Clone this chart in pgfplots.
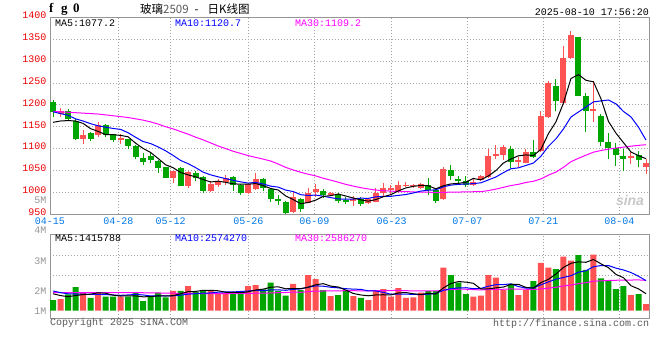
\documentclass[border=0pt]{standalone}
\usepackage{pgfplots}
\usepackage{pgfplotstable}
\pgfplotsset{compat=1.18}
\usepackage{fontspec}
\setmainfont{Liberation Mono}
\newfontfamily\cjk{Noto Sans CJK SC}
\newfontfamily\sansb{Liberation Sans}
\newfontfamily\serifb{Liberation Serif}
\definecolor{cred}{RGB}{255,82,82}
\definecolor{cgreen}{RGB}{0,166,0}
\definecolor{cdate}{RGB}{0,120,230}
\definecolor{ctick}{RGB}{235,0,0}
\definecolor{cgrid}{RGB}{165,165,165}
\definecolor{cframe}{RGB}{150,150,150}
\definecolor{clabel}{RGB}{150,150,150}
\definecolor{ctext}{RGB}{90,90,90}
\definecolor{cmag}{RGB}{255,0,255}
\definecolor{cblue}{RGB}{0,0,255}

\pgfplotstableread{
x o h l c v
1 1180 1192 1173 1185 1.00
4 1122 1142 1111 1132 1.57
6 1131 1161 1127 1154 1.57
9 1119 1134 1111 1124 1.20
16 1033 1050 1022 1048 1.69
18 1015 1050 1011 1047 2.11
21 1003 1025 1001 1020 1.69
22 1016 1030 1012 1024 1.49
23 1024 1039 1017 1034 1.43
26 999 1022 997 1020 2.11
27 1008 1044 1006 1031 2.20
32 955 1000 952 990 2.29
34 976 1009 975 999 3.06
35 1000 1020 990 1008 2.71
37 995 1001 993 999 1.26
40 981 992 969 985 1.26
42 975 987 973 984 0.91
43 979 1011 977 999 1.69
44 999 1022 992 1009 1.86
45 1006 1018 993 1009 1.20
46 1001 1026 998 1016 1.94
47 1015 1023 1012 1018 1.11
48 1014 1020 1010 1017 1.14
49 1009 1022 1008 1020 1.54
52 984 1059 982 1053 3.69
56 1018 1033 1015 1024 1.20
57 1028 1039 1027 1037 1.29
58 1035 1100 1034 1083 3.06
59 1083 1108 1077 1087 2.83
60 1085 1108 1075 1104 1.77
62 1070 1081 1058 1074 1.34
63 1068 1100 1066 1093 1.77
65 1095 1186 1093 1174 4.11
66 1173 1255 1170 1250 3.69
68 1205 1334 1200 1308 4.63
69 1308 1368 1305 1360 4.29
72 1186 1254 1161 1190 4.80
77 1078 1093 1065 1083 1.34
79 1057 1076 1042 1066 0.57
}\upTable

\pgfplotstableread{
x o h l c v
0 1207 1212 1172 1183 0.91
2 1186 1190 1162 1167 1.40
3 1164 1168 1120 1121 2.03
5 1135 1137 1117 1123 1.11
7 1155 1156 1126 1130 1.20
8 1133 1134 1116 1120 1.20
10 1121 1123 1100 1107 1.20
11 1107 1108 1077 1081 1.54
12 1078 1089 1063 1070 0.83
13 1084 1092 1066 1074 1.26
14 1072 1075 1045 1056 1.54
15 1057 1058 1033 1034 1.14
17 1055 1057 1014 1015 1.69
19 1045 1050 1027 1034 1.60
20 1036 1038 999 1003 1.69
24 1036 1037 1003 1017 1.60
25 1018 1020 995 999 1.49
28 1030 1034 1004 1010 1.83
29 1008 1010 978 985 2.40
30 984 994 971 981 1.69
31 978 980 951 952 1.29
33 984 987 956 963 1.77
36 1004 1008 987 994 1.77
38 997 999 976 981 1.34
39 983 989 974 977 1.77
41 985 990 969 973 1.11
50 1017 1032 994 1005 1.69
51 1005 1009 976 981 1.69
53 1051 1062 1028 1038 3.06
54 1030 1037 1018 1026 2.40
55 1026 1037 1012 1018 1.43
61 1100 1106 1056 1070 2.29
64 1093 1119 1078 1080 2.54
67 1242 1259 1185 1208 3.57
70 1355 1355 1219 1219 4.77
71 1219 1226 1138 1185 3.49
73 1174 1180 1105 1115 2.77
74 1116 1136 1076 1101 2.63
75 1102 1113 1061 1085 1.86
76 1082 1098 1049 1077 2.11
78 1085 1095 1059 1074 1.43
}\downTable

\pgfplotstableread{
x ma5 ma10 ma30 vma5 vma10 vma30
0 1160 1184 1185 1.45 1.69 1.55
1 1163 1180 1184 1.30 1.55 1.55
2 1164 1176 1183 1.20 1.45 1.55
3 1163 1168 1182 1.30 1.43 1.55
4 1157.6 1163 1181 1.38 1.42 1.55
5 1145.6 1157 1180 1.42 1.40 1.55
6 1139.4 1152 1179 1.54 1.40 1.55
7 1132.0 1149 1177 1.50 1.38 1.55
8 1131.8 1146 1175 1.33 1.35 1.55
9 1130.2 1143.9 1173 1.26 1.32 1.54
10 1127.0 1136.3 1171 1.27 1.35 1.54
11 1112.4 1125.9 1168 1.27 1.40 1.54
12 1100.4 1116.2 1165 1.19 1.35 1.54
13 1091.2 1111.5 1161 1.21 1.27 1.53
14 1077.6 1103.9 1156 1.27 1.27 1.52
15 1063.0 1095.0 1150 1.26 1.27 1.51
16 1056.4 1084.4 1145 1.29 1.28 1.50
17 1045.4 1072.9 1139 1.46 1.33 1.49
18 1040.0 1065.6 1133 1.63 1.42 1.48
19 1035.6 1056.6 1126 1.65 1.46 1.48
20 1029.4 1046.2 1120 1.75 1.51 1.47
21 1023.8 1040.1 1113 1.75 1.52 1.47
22 1025.6 1035.5 1106 1.71 1.59 1.47
23 1023.0 1031.5 1100 1.58 1.61 1.47
24 1019.6 1027.6 1094 1.58 1.61 1.48
25 1018.8 1024.1 1089 1.54 1.65 1.48
26 1018.8 1021.3 1084 1.62 1.69 1.49
27 1020.2 1022.9 1080 1.77 1.74 1.50
28 1015.4 1019.2 1076 1.85 1.71 1.51
29 1009.0 1014.3 1071.6 2.01 1.79 1.52
30 1005.4 1012.1 1064.9 2.05 1.79 1.55
31 991.8 1005.3 1057.1 1.88 1.75 1.56
32 983.6 1001.9 1051.2 1.90 1.83 1.59
33 974.2 994.8 1045.9 1.89 1.87 1.58
34 977.0 993.0 1041.5 2.02 2.01 1.63
35 982.4 993.9 1037.7 2.22 2.13 1.68
36 990.8 991.3 1032.3 2.32 2.10 1.69
37 992.6 988.1 1028.0 2.11 2.01 1.69
38 996.2 985.2 1023.3 2.03 1.96 1.70
39 991.8 984.4 1018.4 1.77 1.89 1.72
40 987.2 984.8 1014.4 1.48 1.85 1.72
41 983.0 986.9 1010.8 1.35 1.83 1.70
42 980.0 986.3 1007.9 1.28 1.70 1.71
43 983.6 989.9 1005.4 1.35 1.69 1.72
44 990.0 990.9 1003.8 1.37 1.57 1.73
45 994.8 991.0 1003.0 1.35 1.42 1.73
46 1003.4 993.2 1001.9 1.52 1.43 1.74
47 1010.2 995.1 1002.0 1.56 1.42 1.72
48 1013.8 998.7 1001.0 1.45 1.40 1.69
49 1016.0 1003.0 1000.6 1.39 1.38 1.69
50 1015.2 1005.0 1000.6 1.49 1.42 1.69
51 1008.2 1005.8 999.3 1.43 1.48 1.69
52 1015.2 1012.7 1000.3 1.95 1.75 1.76
53 1019.4 1016.6 1000.4 2.33 1.89 1.82
54 1020.6 1018.3 1000.7 2.50 1.95 1.84
55 1023.2 1019.2 1001.4 2.45 1.97 1.84
56 1031.8 1020.0 1001.5 2.35 1.89 1.81
57 1028.6 1021.9 1001.7 1.87 1.91 1.78
58 1037.6 1028.5 1004.1 1.87 2.10 1.82
59 1049.8 1035.2 1007.5 1.96 2.23 1.83
60 1067.0 1045.1 1011.6 2.03 2.24 1.84
61 1076.2 1054.0 1015.6 2.25 2.30 1.87
62 1083.6 1056.1 1018.4 2.26 2.07 1.84
63 1085.6 1061.6 1022.7 2.00 1.94 1.84
64 1084.2 1067.0 1025.4 1.94 1.95 1.82
65 1098.2 1082.6 1030.9 2.41 2.22 1.87
66 1134.2 1105.2 1039.5 2.69 2.47 1.93
67 1161.0 1122.3 1046.4 3.14 2.70 2.01
68 1204.0 1144.8 1057.3 3.71 2.85 2.12
69 1260.0 1172.1 1070.1 4.06 3.00 2.20
70 1269.0 1183.6 1077.9 4.19 3.30 2.32
71 1256.0 1195.1 1085.0 4.15 3.42 2.40
72 1252.4 1206.7 1091.8 4.39 3.77 2.53
73 1213.8 1208.9 1095.7 4.02 3.87 2.56
74 1162.0 1211.0 1098.8 3.69 3.87 2.59
75 1135.2 1202.1 1101.3 3.11 3.65 2.61
76 1113.6 1184.8 1103.3 2.83 3.49 2.62
77 1092.2 1172.3 1105.5 2.14 3.27 2.63
78 1084.0 1148.9 1107.4 1.87 2.95 2.64
79 1077.0 1119.5 1108.9 1.46 2.58 2.60
}\maTable

\pgfplotsset{
  sina/.style={
    scale only axis, width=599pt,
    xmin=-0.4, xmax=79.4,
    xtick={-0.4,8.70,15.68,26.02,34.81,45.12,55.20,65.32,75.45},
    major tick length=0pt,
    grid=major,
    major grid style={cgrid, line width=0.8pt, dash pattern=on 1pt off 2pt},
    axis line style={cframe, line width=1pt},
    tick label style={font=\fontsize{10}{12}\selectfont},
  },
  wick/.style={draw=none, mark=none, forget plot,
    error bars/.cd, y dir=plus, y explicit, error mark=none,
    error bar style={draw=#1, line width=1pt}},
  body/.style={draw=none, mark=none, forget plot,
    error bars/.cd, y dir=plus, y explicit, error mark=none,
    error bar style={draw=#1, line width=6pt}},
}

\begin{document}
\begin{tikzpicture}[font=\fontsize{10}{12}\selectfont]
\useasboundingbox (0,0) rectangle (660pt,360pt);
\fill[white] (0,0) rectangle (660pt,360pt);

\begin{axis}[sina,
  at={(50pt,145.7pt)}, anchor=south west, height=197.1pt,
  ymin=950, ymax=1400,
  xticklabels={04-15,04-28,05-12,05-26,06-09,06-23,07-07,07-21,08-04},
  ytick={950,1000,1050,1100,1150,1200,1250,1300,1350,1400},
  yticklabels={950,1000,1050,1100,1150,1200,1250,1300,1350,1400},
  x tick label style={text=cdate, anchor=center, yshift=-7pt},
  y tick label style={text=ctick, yshift=2pt},
]
\addplot[wick=cred] table[x=x, y=l, y error plus expr=\thisrow{h}-\thisrow{l}] {\upTable};
\addplot[body=cred] table[x=x, y=o, y error plus expr=\thisrow{c}-\thisrow{o}] {\upTable};
\addplot[wick=cgreen] table[x=x, y=l, y error plus expr=\thisrow{h}-\thisrow{l}] {\downTable};
\addplot[body=cgreen] table[x=x, y=c, y error plus expr=\thisrow{o}-\thisrow{c}] {\downTable};
\addplot[cmag, line width=1pt, mark=none] table[x=x, y=ma30] {\maTable};
\addplot[cblue, line width=1pt, mark=none] table[x=x, y=ma10] {\maTable};
\addplot[black, line width=1pt, mark=none] table[x=x, y=ma5] {\maTable};
\end{axis}

\begin{axis}[sina,
  at={(50pt,41.7pt)}, anchor=south west, height=84pt,
  ymin=-0.651, ymax=6.549,
  xticklabels={},
  ytick={3.03,4.77}, yticklabels={},
]
\addplot[ybar, bar width=6pt, bar shift=0pt, fill=cred, draw=none] table[x=x, y=v] {\upTable};
\addplot[ybar, bar width=6pt, bar shift=0pt, fill=cgreen, draw=none] table[x=x, y=v] {\downTable};
\addplot[cmag, line width=1pt, mark=none] table[x=x, y=vma30] {\maTable};
\addplot[cblue, line width=1pt, mark=none] table[x=x, y=vma10] {\maTable};
\addplot[black, line width=1pt, mark=none] table[x=x, y=vma5] {\maTable};
\end{axis}

% texts
\node[anchor=west, inner sep=0] at (49pt,350.7pt) {\serifb\bfseries\fontsize{13}{15}\selectfont f\hspace{7.7pt}g\hspace{5.5pt}0};
\node[anchor=west, inner sep=0] at (140pt,350.7pt) {\cjk\fontsize{11.5}{13}\selectfont 玻璃\textcolor{ctext}{2509}\hspace{6pt}-\hspace{9pt}日K线图};
\node[anchor=east, inner sep=0] at (649pt,348pt) {2025-08-10 17:56:20};
\node[anchor=west, inner sep=0] at (55pt,336.3pt) {MA5:1077.2};
\node[anchor=west, inner sep=0, text=cblue] at (175pt,336.3pt) {MA10:1120.7};
\node[anchor=west, inner sep=0, text=cmag] at (295pt,336.3pt) {MA30:1109.2};
\node[anchor=west, inner sep=0] at (55pt,122.2pt) {MA5:1415788};
\node[anchor=west, inner sep=0, text=cblue] at (175pt,122.2pt) {MA10:2574270};
\node[anchor=west, inner sep=0, text=cmag] at (295pt,122.2pt) {MA30:2586270};
\node[anchor=east, inner sep=0, text=clabel] at (46.7pt,160pt) {5M};
\node[anchor=east, inner sep=0, text=clabel] at (46.7pt,130pt) {4M};
\node[anchor=east, inner sep=0, text=clabel] at (46.7pt,99.3pt) {3M};
\node[anchor=east, inner sep=0, text=clabel] at (46.7pt,69.3pt) {2M};
\node[anchor=east, inner sep=0, text=clabel] at (46.7pt,49.3pt) {1M};
\node[anchor=west, inner sep=0, text=ctext] at (50pt,36.7pt) {Copyright 2025 SINA.COM};
\node[anchor=east, inner sep=0, text=ctext] at (649.3pt,36pt) {http://finance.sina.com.cn};
\node[anchor=center, inner sep=0, text=black!22] at (630pt,160pt) {\sansb\bfseries\itshape\fontsize{14}{16}\selectfont sina};
\end{tikzpicture}
\end{document}
